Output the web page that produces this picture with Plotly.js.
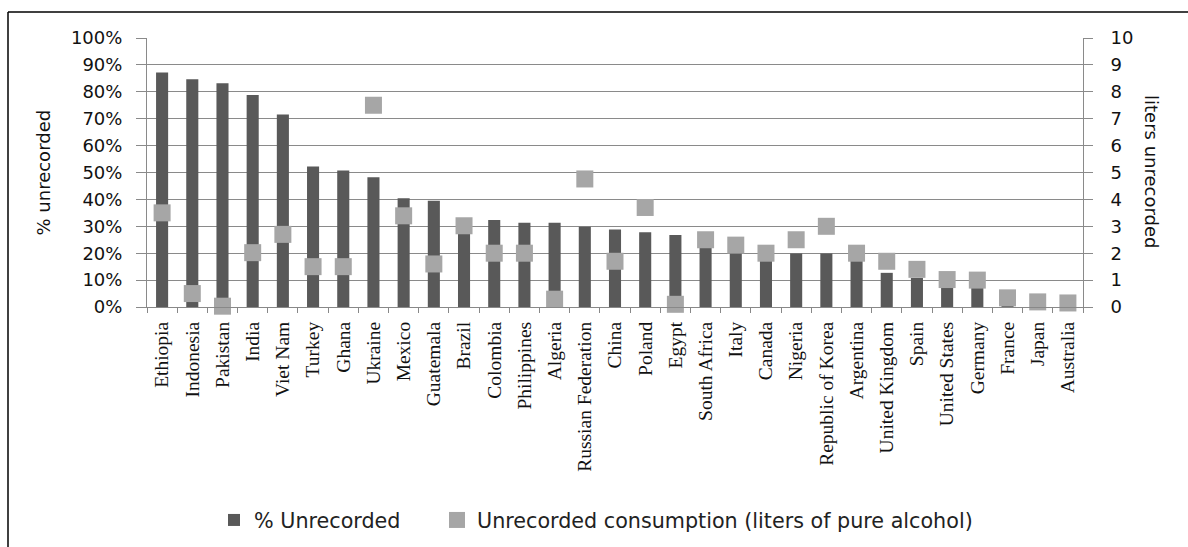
<!DOCTYPE html>
<html>
<head>
<meta charset="utf-8">
<script src="https://cdn.plot.ly/plotly-3.0.1.min.js"></script>
<style>
  html, body { margin: 0; padding: 0; background: #fff; }
  #chart { width: 1188px; height: 547px; }
</style>
</head>
<body>
<div id="chart"></div>
<script>
var countries = ["Ethiopia", "Indonesia", "Pakistan", "India", "Viet Nam", "Turkey", "Ghana", "Ukraine",
  "Mexico", "Guatemala", "Brazil", "Colombia", "Philippines", "Algeria", "Russian Federation", "China",
  "Poland", "Egypt", "South Africa", "Italy", "Canada", "Nigeria", "Republic of Korea", "Argentina",
  "United Kingdom", "Spain", "United States", "Germany", "France", "Japan", "Australia"];
// % unrecorded (fraction)
var pctUnrecorded = [0.872, 0.847, 0.832, 0.788, 0.716, 0.522, 0.507, 0.482,
  0.404, 0.395, 0.328, 0.323, 0.313, 0.313, 0.298, 0.288,
  0.278, 0.268, 0.25, 0.23, 0.21, 0.199, 0.199, 0.19,
  0.127, 0.108, 0.09, 0.085, 0.05, 0.035, 0.03];
// unrecorded consumption, liters of pure alcohol
var litersUnrecorded = [3.5, 0.5, 0.03, 2.02, 2.7, 1.5, 1.5, 7.5,
  3.39, 1.6, 3.02, 2.0, 2.0, 0.29, 4.76, 1.7,
  3.7, 0.1, 2.5, 2.3, 2.0, 2.5, 3.0, 2.0,
  1.7, 1.4, 1.02, 1.0, 0.34, 0.19, 0.15];
var pctTicks = [0, 0.1, 0.2, 0.3, 0.4, 0.5, 0.6, 0.7, 0.8, 0.9, 1.0];
var pctTickText = ["0%", "10%", "20%", "30%", "40%", "50%", "60%", "70%", "80%", "90%", "100%"];
var literTicks = [0, 1, 2, 3, 4, 5, 6, 7, 8, 9, 10];

var W = 1188, H = 547;
var L = 147, R = 1083, T = 38, B = 307;
function px(x) { return (x - L) / (R - L); }
function py(y) { return (B - y) / (B - T); }
function cx(x) { return x / W; }
function cy(y) { return 1 - y / H; }

var traces = [
  {
    type: "bar", name: "% Unrecorded", x: countries, y: pctUnrecorded,
    marker: { color: "#595959" }, yaxis: "y", legend: "legend"
  },
  {
    type: "scatter", mode: "markers", name: "Unrecorded consumption (liters of pure alcohol)",
    x: countries, y: litersUnrecorded, yaxis: "y2", cliponaxis: false, legend: "legend2",
    marker: { symbol: "square", size: 17, color: "#a6a6a6", line: { width: 0 } }
  }
];

var sans = "DejaVu Sans, sans-serif";
var legendFont = { family: sans, size: 20.7, color: "#222222" };
var layout = {
  width: W, height: H,
  margin: { l: L, r: W - R, t: T, b: H - B, pad: 0 },
  paper_bgcolor: "#ffffff", plot_bgcolor: "#ffffff",
  showlegend: true,
  bargap: 0.6,
  xaxis: {
    type: "category", range: [-0.5, countries.length - 0.5], autorange: false,
    showgrid: false, showline: true, linecolor: "#888888", linewidth: 1,
    ticks: "outside", tickson: "boundaries", ticklen: 5, tickcolor: "#888888",
    ticklabelstandoff: 6,
    tickangle: -90, tickfont: { family: "Liberation Serif, serif", size: 19.5, color: "#111111" },
    zeroline: false, automargin: false, fixedrange: true
  },
  yaxis: {
    range: [0, 1], tickvals: pctTicks, ticktext: pctTickText,
    showgrid: true, gridcolor: "#8a8a8a", gridwidth: 1,
    showline: true, linecolor: "#8a8a8a", linewidth: 1,
    ticks: "outside", ticklen: 10, tickcolor: "#8a8a8a", ticklabelstandoff: 10,
    tickfont: { family: sans, size: 18, color: "#111111" },
    zeroline: false, automargin: false, fixedrange: true
  },
  yaxis2: {
    range: [0, 10], tickvals: literTicks, overlaying: "y", side: "right",
    showgrid: false, showline: true, linecolor: "#8a8a8a", linewidth: 1,
    ticks: "outside", ticklen: 9, tickcolor: "#8a8a8a", ticklabelstandoff: 14,
    tickfont: { family: sans, size: 18, color: "#111111" },
    zeroline: false, automargin: false, fixedrange: true
  },
  legend: {
    orientation: "h", xref: "container", yref: "container",
    x: cx(214), xanchor: "left", y: cy(520), yanchor: "middle",
    font: legendFont, bgcolor: "rgba(0,0,0,0)", itemwidth: 30
  },
  legend2: {
    orientation: "h", xref: "container", yref: "container",
    x: cx(437), xanchor: "left", y: cy(520), yanchor: "middle",
    font: legendFont, bgcolor: "rgba(0,0,0,0)", itemwidth: 30
  },
  annotations: [
    {
      text: "% unrecorded", xref: "paper", yref: "paper", x: px(43), y: 0.5,
      xanchor: "center", yanchor: "middle", textangle: -90, showarrow: false,
      font: { family: sans, size: 18, color: "#111111" }
    },
    {
      text: "liters unrecorded", xref: "paper", yref: "paper", x: px(1152), y: py(171),
      xanchor: "center", yanchor: "middle", textangle: 90, showarrow: false,
      font: { family: sans, size: 18, color: "#111111" }
    }
  ],
  shapes: [
    { type: "line", xref: "paper", yref: "paper", x0: px(8), x1: px(1190), y0: py(12), y1: py(12),
      line: { color: "#000000", width: 1.5 } },
    { type: "line", xref: "paper", yref: "paper", x0: px(8), x1: px(8), y0: py(12), y1: py(550),
      line: { color: "#000000", width: 1.5 } }
  ]
};

Plotly.newPlot("chart", traces, layout, { displayModeBar: false, staticPlot: true });
</script>
</body>
</html>
